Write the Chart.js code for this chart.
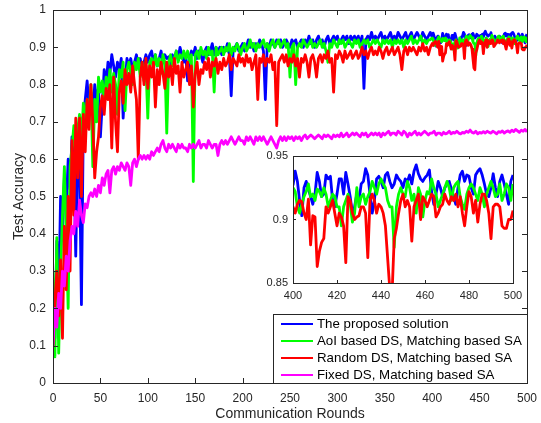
<!DOCTYPE html>
<html>
<head>
<meta charset="utf-8">
<script src="https://cdn.jsdelivr.net/npm/chart.js@4.4.0/dist/chart.umd.min.js"></script>
<style>
  body { margin: 0; background: #fff; }
  #wrap { position: relative; width: 541px; height: 423px; }
  #main { position: absolute; left: 0; top: 0; }
  #zoom { position: absolute; left: 253px; top: 146px; }
</style>
</head>
<body>
<div id="wrap">
  <canvas id="main" width="541" height="423"></canvas>
  <canvas id="zoom" width="274" height="161"></canvas>
</div>
<script>
// rounds 0..398 (every 2nd), rounds 0..500 for the fixed-DS curve
const rounds = [];
for (let r = 0; r <= 398; r += 2) rounds.push(r);
const fixedRounds = [];
for (let r = 0; r <= 500; r += 2) fixedRounds.push(r);
// every round of the zoomed window 400..500
const zoomRounds = [];
for (let r = 400; r <= 500; r++) zoomRounds.push(r);

const seriesNames = [
  'The proposed solution',
  'AoI based DS, Matching based SA',
  'Random DS, Matching based SA',
  'Fixed DS, Matching based SA'
];
const seriesColors = ['#0000ff', '#00ff00', '#ff0000', '#ff00ff'];

const xTicks = [0, 50, 100, 150, 200, 250, 300, 350, 400, 450, 500];
const yTicks = [0, 0.1, 0.2, 0.3, 0.4, 0.5, 0.6, 0.7, 0.8, 0.9, 1];
const zoomXTicks = [400, 420, 440, 460, 480, 500];
const zoomYTicks = [0.85, 0.9, 0.95];

// test accuracy, rounds 0..398
const proposed = [
  0.27, 0.12, 0.38, 0.22, 0.50, 0.40, 0.55, 0.47, 0.60, 0.52,
  0.66, 0.60, 0.34, 0.62, 0.58, 0.21, 0.70, 0.76, 0.81, 0.74,
  0.78, 0.72, 0.80, 0.76, 0.79, 0.66, 0.75, 0.84, 0.80, 0.86,
  0.83, 0.88, 0.85, 0.82, 0.86, 0.84, 0.87, 0.71, 0.80, 0.87,
  0.85, 0.87, 0.84, 0.86, 0.88, 0.85, 0.87, 0.84, 0.86, 0.88,
  0.86, 0.88, 0.89, 0.86, 0.88, 0.85, 0.87, 0.89, 0.86, 0.88,
  0.87, 0.875, 0.85, 0.88, 0.86, 0.89, 0.87, 0.90, 0.88, 0.86,
  0.88, 0.81, 0.87, 0.89, 0.88, 0.90, 0.87, 0.89, 0.88, 0.86,
  0.89, 0.90, 0.88, 0.89, 0.91, 0.88, 0.90, 0.89, 0.90, 0.88,
  0.90, 0.89, 0.91, 0.88, 0.77, 0.89, 0.90, 0.91, 0.89, 0.90,
  0.91, 0.89, 0.90, 0.92, 0.90, 0.91, 0.89, 0.91, 0.90, 0.92,
  0.91, 0.89, 0.76, 0.91, 0.90, 0.92, 0.91, 0.90, 0.92, 0.91,
  0.92, 0.90, 0.91, 0.92, 0.91, 0.90, 0.92, 0.91, 0.92, 0.90,
  0.91, 0.92, 0.90, 0.92, 0.91, 0.93, 0.91, 0.92, 0.90, 0.92,
  0.93, 0.91, 0.92, 0.90, 0.92, 0.93, 0.91, 0.92, 0.93, 0.92,
  0.93, 0.91, 0.92, 0.93, 0.92, 0.93, 0.91, 0.93, 0.92, 0.93,
  0.92, 0.93, 0.91, 0.93, 0.79, 0.92, 0.93, 0.92, 0.94, 0.92,
  0.93, 0.92, 0.93, 0.94, 0.92, 0.93, 0.92, 0.93, 0.94, 0.92,
  0.93, 0.92, 0.94, 0.93, 0.92, 0.93, 0.94, 0.92, 0.93, 0.94,
  0.92, 0.93, 0.94, 0.93, 0.92, 0.94, 0.93, 0.92, 0.93, 0.94
];
const aoiDS = [
  0.30, 0.07, 0.39, 0.08, 0.30, 0.45, 0.58, 0.40, 0.20, 0.58,
  0.63, 0.69, 0.60, 0.68, 0.72, 0.65, 0.75, 0.70, 0.76, 0.72,
  0.80, 0.58, 0.76, 0.70, 0.82, 0.78, 0.81, 0.75, 0.82, 0.79,
  0.84, 0.78, 0.83, 0.80, 0.72, 0.84, 0.82, 0.86, 0.73, 0.84,
  0.86, 0.83, 0.80, 0.86, 0.84, 0.87, 0.82, 0.86, 0.81, 0.85,
  0.71, 0.86, 0.87, 0.84, 0.88, 0.85, 0.87, 0.83, 0.88, 0.86,
  0.67, 0.86, 0.88, 0.85, 0.87, 0.89, 0.86, 0.88, 0.87, 0.89,
  0.87, 0.89, 0.86, 0.88, 0.54, 0.88, 0.89, 0.87, 0.90, 0.88,
  0.89, 0.87, 0.90, 0.88, 0.89, 0.78, 0.90, 0.88, 0.89, 0.90,
  0.88, 0.90, 0.89, 0.91, 0.88, 0.90, 0.89, 0.91, 0.90, 0.88,
  0.90, 0.91, 0.89, 0.90, 0.92, 0.90, 0.91, 0.89, 0.91, 0.90,
  0.91, 0.92, 0.90, 0.91, 0.89, 0.91, 0.92, 0.90, 0.91, 0.92,
  0.90, 0.91, 0.92, 0.90, 0.91, 0.82, 0.90, 0.91, 0.80, 0.90,
  0.91, 0.90, 0.92, 0.91, 0.90, 0.91, 0.92, 0.90, 0.91, 0.90,
  0.91, 0.92, 0.90, 0.91, 0.89, 0.86, 0.91, 0.90, 0.92, 0.91,
  0.90, 0.92, 0.91, 0.92, 0.90, 0.91, 0.92, 0.91, 0.90, 0.92,
  0.91, 0.92, 0.90, 0.91, 0.92, 0.91, 0.92, 0.90, 0.91, 0.92,
  0.91, 0.92, 0.91, 0.90, 0.92, 0.91, 0.92, 0.91, 0.92, 0.90,
  0.92, 0.91, 0.92, 0.91, 0.92, 0.90, 0.92, 0.91, 0.92, 0.93,
  0.91, 0.92, 0.91, 0.92, 0.93, 0.91, 0.92, 0.91, 0.92, 0.92
];
const randomDS = [
  0.10, 0.22, 0.30, 0.18, 0.33, 0.12, 0.42, 0.25, 0.50, 0.30,
  0.65, 0.45, 0.71, 0.55, 0.71, 0.50, 0.72, 0.62, 0.76, 0.68,
  0.80, 0.70, 0.55, 0.62, 0.66, 0.74, 0.77, 0.72, 0.79, 0.76,
  0.80, 0.63, 0.82, 0.70, 0.62, 0.78, 0.81, 0.75, 0.84, 0.80,
  0.83, 0.78, 0.85, 0.80, 0.76, 0.60, 0.82, 0.86, 0.80, 0.87,
  0.79, 0.85, 0.82, 0.86, 0.74, 0.84, 0.80, 0.86, 0.83, 0.79,
  0.86, 0.82, 0.85, 0.80, 0.87, 0.83, 0.85, 0.78, 0.86, 0.82,
  0.84, 0.86, 0.80, 0.85, 0.74, 0.83, 0.86, 0.80, 0.84, 0.83,
  0.86, 0.84, 0.87, 0.82, 0.86, 0.85, 0.87, 0.83, 0.86, 0.84,
  0.87, 0.85, 0.86, 0.88, 0.84, 0.87, 0.86, 0.85, 0.88, 0.86,
  0.87, 0.85, 0.88, 0.86, 0.87, 0.84, 0.86, 0.88, 0.76, 0.87,
  0.86, 0.88, 0.85, 0.87, 0.86, 0.88, 0.84, 0.86, 0.69, 0.86,
  0.87, 0.88, 0.86, 0.88, 0.85, 0.87, 0.86, 0.88, 0.85, 0.87,
  0.82, 0.87, 0.86, 0.88, 0.86, 0.82, 0.87, 0.88, 0.86, 0.82,
  0.87, 0.88, 0.86, 0.88, 0.87, 0.89, 0.86, 0.87, 0.78, 0.88,
  0.87, 0.89, 0.88, 0.86, 0.89, 0.87, 0.88, 0.89, 0.87, 0.88,
  0.89, 0.87, 0.88, 0.90, 0.88, 0.89, 0.87, 0.89, 0.90, 0.88,
  0.89, 0.88, 0.90, 0.89, 0.87, 0.89, 0.90, 0.88, 0.89, 0.90,
  0.88, 0.89, 0.90, 0.88, 0.84, 0.89, 0.90, 0.88, 0.90, 0.89,
  0.90, 0.89, 0.88, 0.90, 0.89, 0.91, 0.89, 0.90, 0.88, 0.90
];
// fixed DS, rounds 0..500
const fixedDS = [
  0.10, 0.20, 0.15, 0.24, 0.20, 0.30, 0.26, 0.34, 0.30, 0.38,
  0.42, 0.40, 0.46, 0.42, 0.49, 0.45, 0.43, 0.48, 0.47, 0.50,
  0.51, 0.50, 0.52, 0.50, 0.53, 0.51, 0.55, 0.53, 0.56, 0.57,
  0.51, 0.57, 0.58, 0.56, 0.58, 0.57, 0.59, 0.58, 0.57, 0.59,
  0.58, 0.53, 0.59, 0.60, 0.58, 0.60, 0.61, 0.60, 0.61, 0.60,
  0.61, 0.60, 0.62, 0.61, 0.62, 0.63, 0.62, 0.64, 0.65, 0.63,
  0.62, 0.64, 0.63, 0.64, 0.63, 0.62, 0.64, 0.63, 0.64, 0.63,
  0.63, 0.62, 0.64, 0.63, 0.64, 0.63, 0.64, 0.65, 0.63, 0.64,
  0.64, 0.63, 0.65, 0.64, 0.63, 0.64, 0.64, 0.61, 0.64, 0.65,
  0.64, 0.65, 0.64, 0.65, 0.66, 0.65, 0.64, 0.65, 0.66, 0.65,
  0.65, 0.64, 0.66, 0.65, 0.66, 0.65, 0.64, 0.66, 0.65, 0.66,
  0.65, 0.66, 0.65, 0.64, 0.65, 0.66, 0.65, 0.64, 0.63, 0.65,
  0.66, 0.65, 0.66, 0.65, 0.66, 0.655, 0.66, 0.65, 0.66, 0.655,
  0.66, 0.65, 0.66, 0.665, 0.655, 0.66, 0.665, 0.66, 0.655, 0.66,
  0.665, 0.66, 0.655, 0.665, 0.66, 0.665, 0.66, 0.655, 0.665, 0.66,
  0.665, 0.66, 0.67, 0.66, 0.665, 0.67, 0.66, 0.665, 0.67, 0.665,
  0.67, 0.665, 0.66, 0.67, 0.665, 0.67, 0.66, 0.665, 0.67, 0.665,
  0.67, 0.665, 0.67, 0.66, 0.67, 0.665, 0.67, 0.675, 0.665, 0.67,
  0.67, 0.665, 0.675, 0.67, 0.665, 0.675, 0.67, 0.66, 0.67, 0.665,
  0.67, 0.675, 0.665, 0.67, 0.665, 0.67, 0.675, 0.67, 0.665, 0.67,
  0.67, 0.675, 0.665, 0.67, 0.67, 0.665, 0.672, 0.668, 0.67, 0.675,
  0.668, 0.672, 0.67, 0.675, 0.67, 0.668, 0.672, 0.67, 0.675, 0.672,
  0.678, 0.672, 0.67, 0.675, 0.668, 0.672, 0.67, 0.674, 0.67, 0.675,
  0.672, 0.67, 0.675, 0.672, 0.668, 0.674, 0.672, 0.676, 0.67, 0.674,
  0.676, 0.672, 0.678, 0.674, 0.68, 0.676, 0.672, 0.678, 0.675, 0.68,
  0.673
];

// every round 400..500, shown in the zoomed axes and in the main plot
const zoomProposed = [
  0.927, 0.938, 0.93, 0.915, 0.903, 0.925, 0.93, 0.924, 0.918, 0.912,
  0.92, 0.937, 0.93, 0.918, 0.92, 0.935, 0.932, 0.934, 0.915, 0.91,
  0.92, 0.932, 0.932, 0.92, 0.937, 0.928, 0.918, 0.905, 0.91, 0.92,
  0.915, 0.928, 0.93, 0.94, 0.935, 0.92, 0.905, 0.915, 0.932, 0.934,
  0.93, 0.925, 0.935, 0.937, 0.93, 0.925, 0.928, 0.935, 0.932, 0.93,
  0.925, 0.932, 0.93, 0.935, 0.928, 0.938, 0.943, 0.936, 0.932, 0.93,
  0.933, 0.935, 0.939, 0.922, 0.912, 0.92, 0.93, 0.925, 0.918, 0.925,
  0.928, 0.93, 0.924, 0.918, 0.912, 0.925, 0.935, 0.938, 0.93, 0.935,
  0.934, 0.925, 0.92, 0.935, 0.938, 0.94, 0.935, 0.928, 0.92, 0.918,
  0.925, 0.936, 0.925, 0.918, 0.93, 0.935, 0.928, 0.92, 0.912, 0.93,
  0.935
];
const zoomAoiDS = [
  0.925, 0.922, 0.91, 0.905, 0.912, 0.918, 0.922, 0.928, 0.918, 0.92,
  0.915, 0.924, 0.922, 0.918, 0.925, 0.92, 0.91, 0.915, 0.92, 0.918,
  0.91, 0.91, 0.895, 0.91, 0.915, 0.92, 0.912, 0.898, 0.905, 0.925,
  0.91, 0.918, 0.92, 0.912, 0.918, 0.922, 0.93, 0.925, 0.92, 0.928,
  0.932, 0.928, 0.925, 0.915, 0.91, 0.91, 0.878, 0.91, 0.92, 0.925,
  0.92, 0.918, 0.93, 0.925, 0.915, 0.92, 0.905, 0.925, 0.92, 0.902,
  0.915, 0.922, 0.92, 0.932, 0.925, 0.92, 0.91, 0.915, 0.92, 0.925,
  0.93, 0.925, 0.915, 0.925, 0.928, 0.93, 0.918, 0.912, 0.908, 0.92,
  0.925, 0.928, 0.925, 0.92, 0.915, 0.925, 0.92, 0.91, 0.92, 0.925,
  0.93, 0.925, 0.918, 0.92, 0.928, 0.915, 0.92, 0.928, 0.925, 0.915,
  0.928
];
const zoomRandomDS = [
  0.91, 0.905, 0.912, 0.915, 0.914, 0.905, 0.9, 0.916, 0.88, 0.903,
  0.902, 0.863, 0.875, 0.882, 0.885, 0.91, 0.905, 0.91, 0.915, 0.905,
  0.895, 0.905, 0.902, 0.895, 0.866, 0.918, 0.915, 0.905, 0.9, 0.902,
  0.903, 0.91, 0.91, 0.905, 0.87, 0.915, 0.92, 0.915, 0.905, 0.912,
  0.91, 0.905, 0.895, 0.87, 0.845, 0.84, 0.885, 0.893, 0.905, 0.915,
  0.92, 0.91, 0.915, 0.91, 0.883, 0.91, 0.915, 0.92, 0.9, 0.918,
  0.915, 0.91, 0.915, 0.92, 0.918, 0.902, 0.905, 0.91, 0.912, 0.92,
  0.915, 0.912, 0.918, 0.915, 0.92, 0.91, 0.918, 0.905, 0.895, 0.91,
  0.922, 0.918, 0.905, 0.915, 0.898, 0.912, 0.92, 0.92, 0.915, 0.905,
  0.885, 0.91, 0.912, 0.912, 0.91, 0.895, 0.893, 0.893, 0.9, 0.9,
  0.907
];

const FONT = '"Liberation Sans", Arial, Helvetica, sans-serif';
const AXIS = '#262626';
Chart.defaults.font.family = FONT;

function points(xs, ys) {
  return xs.map((x, i) => ({ x: x, y: ys[i] }));
}

function lineSet(i, data) {
  return {
    label: seriesNames[i],
    data: data,
    borderColor: seriesColors[i],
    backgroundColor: seriesColors[i],
    borderWidth: 2.8,
    pointRadius: 0,
    pointHoverRadius: 0,
    tension: 0,
    borderJoinStyle: 'round',
    // later series sit on top, as if plotted one after another
    order: 3 - i,
    clip: 0
  };
}

// box around the axes with inward ticks on all four sides
const framePlugin = {
  id: 'frame',
  beforeDraw(chart, args, opts) {
    if (!opts.fill) return;
    const a = chart.chartArea;
    const ctx = chart.ctx;
    ctx.save();
    ctx.fillStyle = '#fff';
    ctx.fillRect(a.left, a.top, a.right - a.left, a.bottom - a.top);
    ctx.restore();
  },
  afterDatasetsDraw(chart, args, opts) {
    const { ctx, chartArea: a, scales } = chart;
    const len = opts.tick || 5;
    ctx.save();
    ctx.strokeStyle = AXIS;
    ctx.lineWidth = 1;
    ctx.beginPath();
    scales.x.ticks.forEach(t => {
      const px = Math.round(scales.x.getPixelForValue(t.value)) + 0.5;
      ctx.moveTo(px, a.bottom); ctx.lineTo(px, a.bottom - len);
      ctx.moveTo(px, a.top); ctx.lineTo(px, a.top + len);
    });
    scales.y.ticks.forEach(t => {
      const py = Math.round(scales.y.getPixelForValue(t.value)) + 0.5;
      ctx.moveTo(a.left, py); ctx.lineTo(a.left + len, py);
      ctx.moveTo(a.right, py); ctx.lineTo(a.right - len, py);
    });
    ctx.stroke();
    ctx.strokeRect(Math.round(a.left) + 0.5, Math.round(a.top) + 0.5,
      Math.round(a.right - a.left), Math.round(a.bottom - a.top));
    ctx.restore();
  }
};

// legend box in the lower right corner of the axes
const boxLegend = {
  id: 'boxLegend',
  afterDraw(chart) {
    const { ctx, chartArea: a } = chart;
    const w = 254, rowH = 17;
    const sets = chart.data.datasets;
    const h = sets.length * rowH + 1;
    const left = Math.round(a.right) - w, top = Math.round(a.bottom) - h;
    ctx.save();
    ctx.fillStyle = '#fff';
    ctx.fillRect(left, top, w, h);
    ctx.strokeStyle = AXIS;
    ctx.lineWidth = 1;
    ctx.strokeRect(left + 0.5, top + 0.5, w, h);
    ctx.font = '13.3px ' + FONT;
    ctx.textBaseline = 'middle';
    sets.forEach((ds, i) => {
      const cy = top + 10 + i * rowH;
      ctx.strokeStyle = ds.borderColor;
      ctx.lineWidth = 2;
      ctx.beginPath();
      ctx.moveTo(left + 8, cy); ctx.lineTo(left + 40, cy);
      ctx.stroke();
      ctx.fillStyle = '#000';
      ctx.fillText(ds.label, left + 44, cy + 0.5);
    });
    ctx.restore();
  }
};

function fixedTicks(list) {
  return s => { s.ticks = list.map(v => ({ value: v })); };
}

// fixed scale box sizes; label overhang must not shrink the plot area
function fitX(h) {
  return s => { s.height = h; s.paddingLeft = 0; s.paddingRight = 0; };
}
function fitY(w) {
  return s => { s.width = w; s.paddingTop = 0; s.paddingBottom = 0; };
}

new Chart(document.getElementById('main'), {
  type: 'line',
  data: {
    datasets: [
      lineSet(0, points(rounds, proposed).concat(points(zoomRounds, zoomProposed))),
      lineSet(1, points(rounds, aoiDS).concat(points(zoomRounds, zoomAoiDS))),
      lineSet(2, points(rounds, randomDS).concat(points(zoomRounds, zoomRandomDS))),
      lineSet(3, points(fixedRounds, fixedDS))
    ]
  },
  options: {
    responsive: false,
    animation: false,
    events: [],
    layout: { autoPadding: false, padding: { left: 0, top: 10, right: 14, bottom: 0 } },
    plugins: {
      legend: { display: false },
      tooltip: { enabled: false },
      frame: { tick: 5 }
    },
    scales: {
      x: {
        type: 'linear', min: 0, max: 500,
        afterBuildTicks: fixedTicks(xTicks),
        afterFit: fitX(40),
        grid: { display: false, drawTicks: false },
        border: { display: false },
        ticks: { color: AXIS, font: { size: 12 }, padding: 8, maxRotation: 0, autoSkip: false },
        title: { display: true, text: 'Communication Rounds', color: AXIS,
          font: { size: 14 }, padding: { top: 0, bottom: 0.5 } }
      },
      y: {
        type: 'linear', min: 0, max: 1,
        afterBuildTicks: fixedTicks(yTicks),
        afterFit: fitY(53),
        grid: { display: false, drawTicks: false },
        border: { display: false },
        ticks: { color: AXIS, font: { size: 12 }, padding: 7, autoSkip: false,
          callback: v => String(v) },
        title: { display: true, text: 'Test Accuracy', color: AXIS,
          font: { size: 14 }, padding: { top: 10.5, bottom: 0 } }
      }
    }
  },
  plugins: [framePlugin, boxLegend]
});

new Chart(document.getElementById('zoom'), {
  type: 'line',
  data: {
    datasets: [
      lineSet(0, points(zoomRounds, zoomProposed)),
      lineSet(1, points(zoomRounds, zoomAoiDS)),
      lineSet(2, points(zoomRounds, zoomRandomDS))
    ]
  },
  options: {
    responsive: false,
    animation: false,
    events: [],
    layout: { autoPadding: false, padding: { left: 0, top: 10, right: 14, bottom: 0 } },
    plugins: {
      legend: { display: false },
      tooltip: { enabled: false },
      frame: { tick: 3, fill: true }
    },
    scales: {
      x: {
        type: 'linear', min: 400, max: 500,
        afterBuildTicks: fixedTicks(zoomXTicks),
        afterFit: fitX(24),
        grid: { display: false, drawTicks: false },
        border: { display: false },
        ticks: { color: AXIS, font: { size: 11 }, padding: 6, maxRotation: 0, autoSkip: false }
      },
      y: {
        type: 'linear', min: 0.85, max: 0.95,
        afterBuildTicks: fixedTicks(zoomYTicks),
        afterFit: fitY(40),
        grid: { display: false, drawTicks: false },
        border: { display: false },
        ticks: { color: AXIS, font: { size: 11 }, padding: 5, autoSkip: false,
          callback: v => String(v) }
      }
    }
  },
  plugins: [framePlugin]
});
</script>
</body>
</html>
